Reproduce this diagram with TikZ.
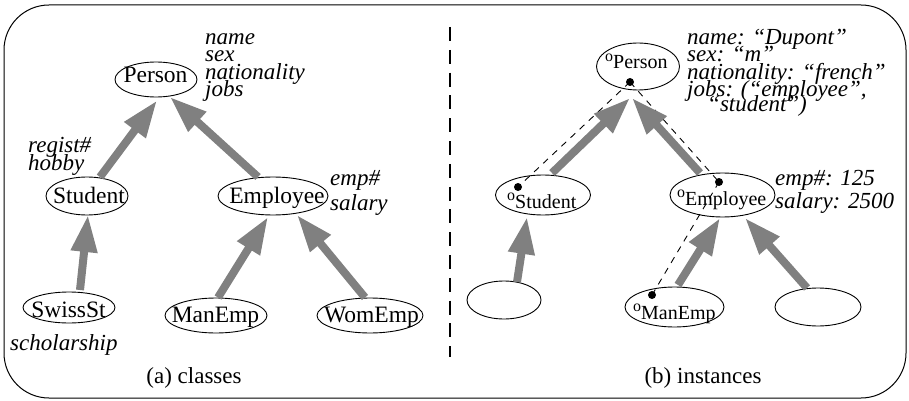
\documentclass[tikz,border=0pt]{standalone}
\usepackage{fontspec}
\setmainfont{Liberation Serif}
\usetikzlibrary{arrows.meta,shapes.geometric}

\newcommand\objname[1]{\raisebox{7.5pt}{\fontsize{16}{16}\selectfont o}{\fontsize{20}{20}\selectfont #1}}

\begin{document}
\begin{tikzpicture}[x=1pt,y=-1pt,
  frame/.style={draw, line width=1pt, rounded corners=45pt},
  cls/.style={draw, ellipse, line width=0.9pt, inner sep=0pt},
  lbl/.style={inner sep=0pt, font=\fontsize{23.5}{23.5}\selectfont, anchor=base},
  captxt/.style={inner sep=0pt, font=\fontsize{23}{23}\selectfont, anchor=base},
  attr/.style={inner sep=0pt, font=\fontsize{23}{23}\selectfont\itshape, anchor=base west},
  olbl/.style={inner sep=0pt, anchor=base west},
  isa/.style={draw=gray, line width=8pt, -{Triangle[length=37pt,width=25pt]}},
  link/.style={draw, line width=0.9pt, dash pattern=on 6.5pt off 6pt},
  dotn/.style={circle, fill, inner sep=0pt, minimum size=8pt},
  divider/.style={draw, line width=1.3pt, dash pattern=on 14pt off 8.8pt}]

\useasboundingbox (0,0) rectangle (909,401);
\draw[frame] (4,5) rectangle (906,398);
\draw[divider] (450,27) -- (450,357);

% ---------- (a) classes ----------
\node[cls, minimum width=82pt, minimum height=35pt] (person) at (156,79.5) {};
\node[cls, minimum width=82pt, minimum height=38pt] (student) at (87,196) {};
\node[cls, minimum width=110pt, minimum height=38pt] (employee) at (273,196) {};
\node[cls, minimum width=92pt, minimum height=31pt] (swissst) at (69,307.5) {};
\node[cls, minimum width=102pt, minimum height=35pt] (manemp) at (216,315.5) {};
\node[cls, minimum width=106pt, minimum height=35pt] (womemp) at (370,315.5) {};

\node[lbl] (tperson) at (155.5,83) {Person};
\node[lbl] (tstudent) at (89,203) {Student};
\node[lbl] (temployee) at (277,203) {Employee};
\node[lbl] (tswissst) at (68.5,317) {SwissSt};
\node[lbl] (tmanemp) at (215.5,322) {ManEmp};
\node[lbl] (twomemp) at (371.5,322) {WomEmp};

\node[attr] (pa1) at (205,45) {name};
\node[attr] (pa2) at (205,62) {sex};
\node[attr] (pa3) at (205,80) {nationality};
\node[attr] (pa4) at (205,97) {jobs};
\node[attr] (sa1) at (28,152) {regist\#};
\node[attr] (sa2) at (28,170) {hobby};
\node[attr] (ea1) at (330,185) {emp\#};
\node[attr] (ea2) at (330,210) {salary};
\node[attr] (wa1) at (10,350) {scholarship};

\draw[isa] ([shift={(13,-19)}]student.center) -- ([shift={(1,21)}]person.center);
\draw[isa] ([shift={(-15,-19)}]employee.center) -- ([shift={(14,17.5)}]person.center);
\draw[isa] ([shift={(11,-17.5)}]swissst.center) -- ([shift={(1,19)}]student.center);
\draw[isa] ([shift={(2,-18)}]manemp.center) -- ([shift={(-5,21)}]employee.center);
\draw[isa] ([shift={(-5,-18)}]womemp.center) -- ([shift={(24,19)}]employee.center);

\node[captxt] (capa) at (194,383) {(a) classes};

% ---------- (b) instances ----------
\node[cls, minimum width=83pt, minimum height=47pt] (operson) at (638,66.5) {};
\node[cls, minimum width=95pt, minimum height=40pt] (ostudent) at (543,195) {};
\node[cls, minimum width=105pt, minimum height=44pt] (oemployee) at (722.5,195) {};
\node[cls, minimum width=74pt, minimum height=38pt] (lefte) at (504,300) {};
\node[cls, minimum width=99pt, minimum height=40pt] (omanemp) at (674.5,307) {};
\node[cls, minimum width=86pt, minimum height=38pt] (righte) at (818,307) {};

\node[olbl] (toperson) at (605,69) {\objname{Person}};
\node[olbl] (tostudent) at (507,208) {\objname{Student}};
\node[olbl] (toemployee) at (677,205) {\objname{Employee}};
\node[olbl] (tomanemp) at (633,319) {\objname{ManEmp}};

\node[attr] (oa1) at (687,45) {name: “Dupont”};
\node[attr] (oa2) at (687,62) {sex: “m”};
\node[attr] (oa3) at (687,80) {nationality: “french”};
\node[attr] (oa4) at (687,97) {jobs: (“employee”,};
\node[attr] (oa5) at (707,112) {“student”)};
\node[attr] (oea1) at (775,185) {emp\#: 125};
\node[attr] (oea2) at (775,208) {salary: 2500};

\node[dotn] (dperson) at (630,82) {};
\node[dotn] (dstudent) at (518,187) {};
\node[dotn] (demployee) at (719,182) {};
\node[dotn] (dmanemp) at (652,295) {};

\draw[link] (dperson.center) -- (dstudent.center);
\draw[link] (dperson.center) -- (demployee.center);
\draw[link] (demployee.center) -- (dmanemp.center);

\draw[isa] ([shift={(9,-22)}]ostudent.center) -- ([shift={(-8,31.5)}]operson.center);
\draw[isa] ([shift={(-22.5,-22)}]oemployee.center) -- ([shift={(-6,31.5)}]operson.center);
\draw[isa] ([shift={(13,-18)}]lefte.center) -- ([shift={(-16,22)}]ostudent.center);
\draw[isa] ([shift={(3.5,-22)}]omanemp.center) -- ([shift={(-2.5,23)}]oemployee.center);
\draw[isa] ([shift={(-11,-19)}]righte.center) -- ([shift={(22.5,23)}]oemployee.center);

\node[captxt] (capb) at (703,383) {(b) instances};
\end{tikzpicture}
\end{document}
